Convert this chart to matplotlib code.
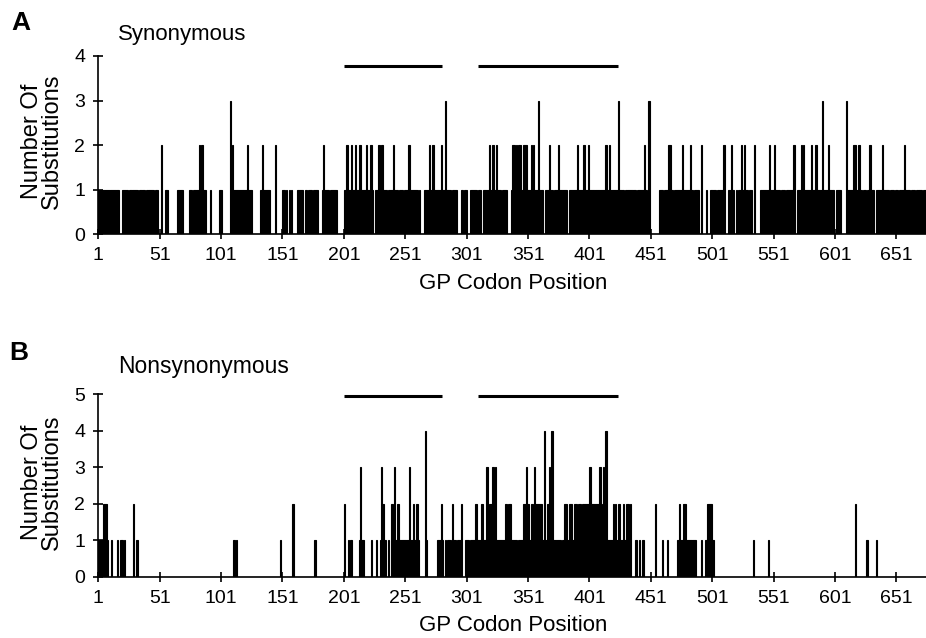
import numpy as np
import matplotlib
matplotlib.use("Agg")
import matplotlib.pyplot as plt
from matplotlib.transforms import blended_transform_factory

plt.rcParams['font.family'] = ['Liberation Sans', 'DejaVu Sans']

# ---------------- data ----------------
n_codons = 676
tick_labels = [1, 51, 101, 151, 201, 251, 301, 351, 401, 451, 501, 551, 601, 651]
region_spans = [(201, 280), (310, 423)]

# Synonymous: runs of codons with 1 substitution, zero codons inside runs, higher peaks
syn_runs = [(1, 17), (20, 24), (26, 32), (34, 38), (40, 45), (47, 49), (55, 57),
            (65, 69), (75, 76), (78, 88), (92, 92), (99, 101), (109, 125),
            (133, 140), (151, 152), (154, 154), (156, 156), (158, 158), (163, 167),
            (169, 179), (183, 194), (201, 224), (226, 262), (266, 292), (296, 300),
            (304, 333), (337, 362), (365, 428), (430, 449), (458, 489), (496, 496),
            (499, 510), (514, 532), (540, 567), (570, 599), (602, 605), (610, 644),
            (646, 676)]
syn_gaps = [171, 175, 189, 236, 245, 249, 261, 288, 298, 309, 313, 329, 371, 383,
            439, 448, 461, 469, 485, 504, 519, 521, 530, 556, 560, 623, 626, 633,
            649, 652, 662, 666, 672]
syn_peaks = {52: 2, 83: 2, 85: 2, 108: 3, 110: 2, 122: 2, 134: 2, 145: 2, 184: 2,
             203: 2, 207: 2, 210: 2, 213: 2, 214: 2, 219: 2, 222: 2, 223: 2, 229: 2,
             231: 2, 232: 2, 241: 2, 253: 2, 254: 2, 270: 2, 273: 2, 280: 2, 283: 3,
             319: 2, 322: 2, 325: 2, 338: 2, 339: 2, 341: 2, 343: 2, 344: 2, 347: 2,
             348: 2, 349: 2, 353: 2, 355: 2, 359: 3, 368: 2, 375: 2, 391: 2, 396: 2,
             400: 2, 414: 2, 417: 2, 424: 3, 445: 2, 449: 3, 465: 2, 466: 2, 476: 2,
             483: 2, 492: 2, 510: 2, 516: 2, 524: 2, 527: 2, 535: 2, 547: 2, 551: 2,
             567: 2, 573: 2, 575: 2, 581: 2, 585: 2, 590: 3, 595: 2, 610: 3, 616: 2,
             617: 2, 620: 2, 629: 2, 639: 2, 657: 2}

# Nonsynonymous
nonsyn_runs = [(1, 8), (11, 11), (16, 16), (19, 20), (22, 22), (32, 32), (111, 111),
               (113, 113), (149, 149), (177, 177), (204, 204), (206, 207), (213, 216),
               (223, 223), (227, 227), (230, 234), (237, 237), (241, 261), (268, 268),
               (277, 287), (290, 296), (300, 434), (438, 439), (441, 441), (444, 444),
               (460, 460), (464, 464), (472, 487), (492, 492), (495, 501), (534, 534),
               (546, 546), (626, 627), (634, 634)]
nonsyn_gaps = [282, 284, 292, 303, 342, 378]
nonsyn_peaks = {5: 2, 6: 2, 7: 2, 29: 2, 159: 2, 201: 2, 214: 3, 231: 3, 232: 2,
                233: 2, 239: 2, 240: 2, 242: 3, 244: 2, 245: 2, 254: 3, 257: 2,
                260: 2, 267: 4, 280: 2, 289: 2, 296: 2, 308: 2, 313: 2, 317: 3,
                319: 2, 320: 2, 321: 2, 322: 3, 324: 3, 332: 2, 333: 2, 335: 2,
                336: 2, 347: 2, 348: 2, 349: 3, 350: 2, 351: 2, 353: 2, 354: 2,
                356: 3, 357: 2, 358: 2, 359: 2, 360: 2, 361: 2, 364: 4, 366: 2,
                367: 2, 368: 3, 370: 4, 380: 2, 381: 2, 382: 2, 384: 2, 385: 2,
                386: 2, 388: 2, 389: 2, 390: 2, 392: 2, 393: 2, 395: 2, 396: 2,
                397: 2, 398: 2, 399: 2, 400: 2, 401: 3, 402: 2, 403: 2, 404: 2,
                405: 2, 406: 2, 407: 2, 408: 2, 409: 3, 410: 2, 412: 3, 414: 4,
                420: 2, 422: 2, 424: 2, 425: 2, 428: 2, 431: 2, 432: 2, 434: 2,
                454: 2, 474: 2, 477: 2, 478: 2, 479: 2, 497: 2, 498: 2, 499: 2,
                500: 2, 617: 2}


def build(runs, gaps, peaks):
    v = np.zeros(n_codons + 1, dtype=int)
    for a, b in runs:
        v[a:b + 1] = 1
    for g in gaps:
        v[g] = 0
    for c, h in peaks.items():
        v[c] = h
    return v[1:]


codons = np.arange(1, n_codons + 1)
syn = build(syn_runs, syn_gaps, syn_peaks)
nonsyn = build(nonsyn_runs, nonsyn_gaps, nonsyn_peaks)

# ---------------- figure ----------------
W, H = 926, 638
fig = plt.figure(figsize=(W / 100, H / 100), dpi=100)

left = 98.3 / W
width = 830.1 / W
axA = fig.add_axes([left, 1 - 234.3 / H, width, 178.3 / H])
axB = fig.add_axes([left, 1 - 576.7 / H, width, 182.7 / H])


def style(ax, vals, ymax, region_y):
    ax.bar(codons, vals, width=1.0, color='black', edgecolor='black',
           linewidth=0.8, align='center')
    ax.set_xlim(0.5, n_codons + 0.5)
    ax.set_ylim(0, ymax)
    ax.set_yticks(range(0, ymax + 1))
    ax.set_xticks(np.array(tick_labels) - 0.5)
    ax.set_xticklabels([str(t) for t in tick_labels])
    for s in ['top', 'right']:
        ax.spines[s].set_visible(False)
    for s in ['left', 'bottom']:
        ax.spines[s].set_linewidth(1.2)
        ax.spines[s].set_zorder(3)
    ax.tick_params(direction='inout', length=7, width=1.2, labelsize=14, pad=6)
    ax.set_xlabel('GP Codon Position', fontsize=16, labelpad=6)
    tr = blended_transform_factory(ax.transData, ax.transAxes)
    for a, b in region_spans:
        ax.plot([a - 0.5, b + 0.5], [region_y, region_y], color='black', lw=2.2,
                transform=tr, clip_on=False, solid_capstyle='butt')


style(axA, syn, 4, 0.944)
style(axB, nonsyn, 5, 0.99)

fig.text(11 / W, 1 - 29.5 / H, 'A', fontsize=19, fontweight='bold', va='baseline')
fig.text(118 / W, 1 - 40 / H, 'Synonymous', fontsize=16, va='baseline')
fig.text(9 / W, 1 - 360 / H, 'B', fontsize=19, fontweight='bold', va='baseline')
fig.text(118 / W, 1 - 373 / H, 'Nonsynonymous', fontsize=16.5, va='baseline')

for yc in (141, 482):
    fig.text(42 / W, 1 - yc / H, 'Number Of\nSubstitutions', fontsize=17,
             rotation=90, ha='center', va='center', linespacing=0.88,
             multialignment='center')

fig.savefig('out.png', dpi=100)
